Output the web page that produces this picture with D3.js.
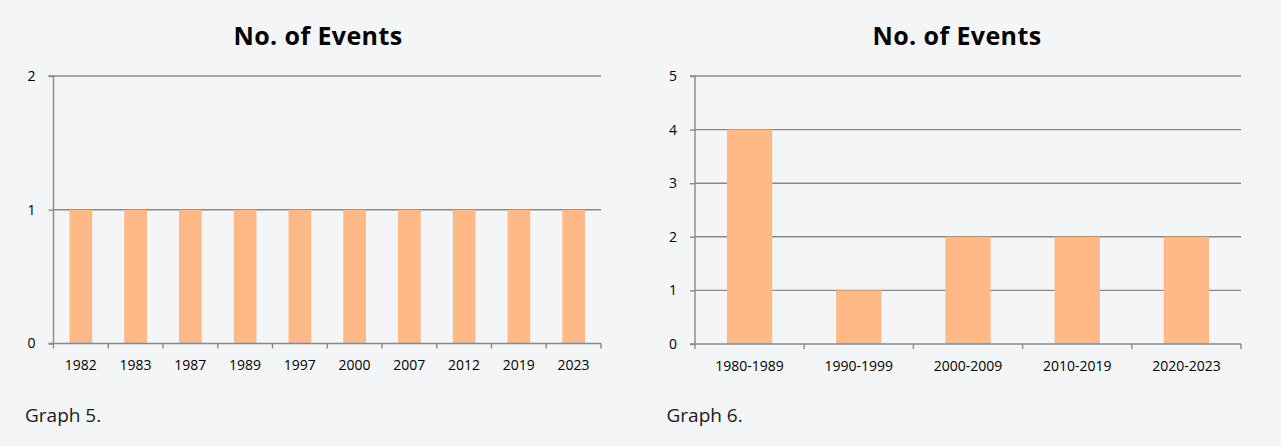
<!DOCTYPE html>
<html>
<head>
<meta charset="utf-8">
<script src="https://cdn.jsdelivr.net/npm/d3@7"></script>
<style>
  html, body { margin: 0; padding: 0; background: #f4f5f7; }
  svg { display: block; }
  .title { font-family: "Open Sans", sans-serif; font-weight: bold; font-size: 25px; letter-spacing: 0.4px; fill: #000; }
  .caption { font-family: "Open Sans", sans-serif; font-size: 19px; fill: #1a1a1a; }
  .axis text { font-family: "Open Sans", sans-serif; font-size: 14px; fill: #000; }
  .axis path, .axis line { stroke: #898989; stroke-width: 1.4; }
  .grid line { stroke: #898989; stroke-width: 1.4; }
</style>
</head>
<body>
<div id="chart"></div>
<script>
(function () {

  // Graph 5: events per year
  const years = ['1982', '1983', '1987', '1989', '1997', '2000', '2007', '2012', '2019', '2023'];
  const yearCounts = [1, 1, 1, 1, 1, 1, 1, 1, 1, 1];
  const yearTicks = [0, 1, 2];

  // Graph 6: events per decade
  const decades = ['1980-1989', '1990-1999', '2000-2009', '2010-2019', '2020-2023'];
  const decadeCounts = [4, 1, 2, 2, 2];
  const decadeTicks = [0, 1, 2, 3, 4, 5];

  const width = 1281,
    height = 446;

  const svg = d3
    .select('#chart')
    .append('svg')
    .attr('width', width)
    .attr('height', height);

  svg.append('rect').attr('width', width).attr('height', height).attr('fill', '#f4f5f7');

  function drawChart(cfg) {
    const { categories, values, ticks, left, right, top, bottom, titleX, caption, captionX } = cfg;

    const x = d3
      .scaleBand()
      .domain(categories)
      .range([left, right])
      .paddingInner(0.585)
      .paddingOuter(0.2925);

    // band edges for the tick marks (no padding)
    const xEdges = d3.scaleBand().domain(categories).range([left, right]);

    const y = d3
      .scaleLinear()
      .domain([0, d3.max(ticks)])
      .range([bottom, top]);

    const g = svg.append('g');

    // horizontal gridlines
    g.append('g')
      .attr('class', 'grid')
      .selectAll('line')
      .data(ticks.filter(t => t > 0))
      .enter()
      .append('line')
      .attr('x1', left)
      .attr('x2', right)
      .attr('y1', d => y(d))
      .attr('y2', d => y(d));

    // bars
    g.append('g')
      .selectAll('rect')
      .data(categories.map((c, i) => ({ c, v: values[i] })))
      .enter()
      .append('rect')
      .attr('x', d => x(d.c))
      .attr('width', x.bandwidth())
      .attr('y', d => y(d.v))
      .attr('height', d => y(0) - y(d.v))
      .attr('fill', '#ffb987');

    // Y axis
    const yAxis = d3.axisLeft(y).tickValues(ticks).tickFormat(d3.format('d')).tickSize(5).tickPadding(13);
    g.append('g')
      .attr('class', 'axis')
      .attr('transform', `translate(${left}, 0)`)
      .call(yAxis)
      .call(a => a.select('.domain').attr('d', `M-5,${top}H0V${bottom}H-5`));

    // X axis, labels centred in each band
    g.append('g')
      .attr('class', 'axis')
      .attr('transform', `translate(0, ${bottom})`)
      .call(d3.axisBottom(x).tickSize(0).tickPadding(17))
      .call(a => a.select('.domain').remove());

    // tick marks between categories
    const edges = categories.map(c => xEdges(c)).concat([right]);
    g.append('g')
      .attr('class', 'axis')
      .selectAll('line')
      .data(edges)
      .enter()
      .append('line')
      .attr('x1', d => d)
      .attr('x2', d => d)
      .attr('y1', bottom)
      .attr('y2', bottom + 5);

    g.append('line')
      .attr('x1', left)
      .attr('x2', right)
      .attr('y1', bottom)
      .attr('y2', bottom)
      .attr('stroke', '#898989')
      .attr('stroke-width', 1.4);

    g.append('text')
      .attr('class', 'title')
      .attr('x', titleX)
      .attr('y', 45)
      .attr('text-anchor', 'middle')
      .text('No. of Events');

    g.append('text')
      .attr('class', 'caption')
      .attr('x', captionX)
      .attr('y', 422)
      .text(caption);
  }

  drawChart({
    categories: years,
    values: yearCounts,
    ticks: yearTicks,
    left: 53.5,
    right: 601,
    top: 76,
    bottom: 343.5,
    titleX: 318,
    caption: 'Graph 5.',
    captionX: 25
  });

  drawChart({
    categories: decades,
    values: decadeCounts,
    ticks: decadeTicks,
    left: 695,
    right: 1241,
    top: 76,
    bottom: 344,
    titleX: 957,
    caption: 'Graph 6.',
    captionX: 666.5
  });

})();
</script>
</body>
</html>
